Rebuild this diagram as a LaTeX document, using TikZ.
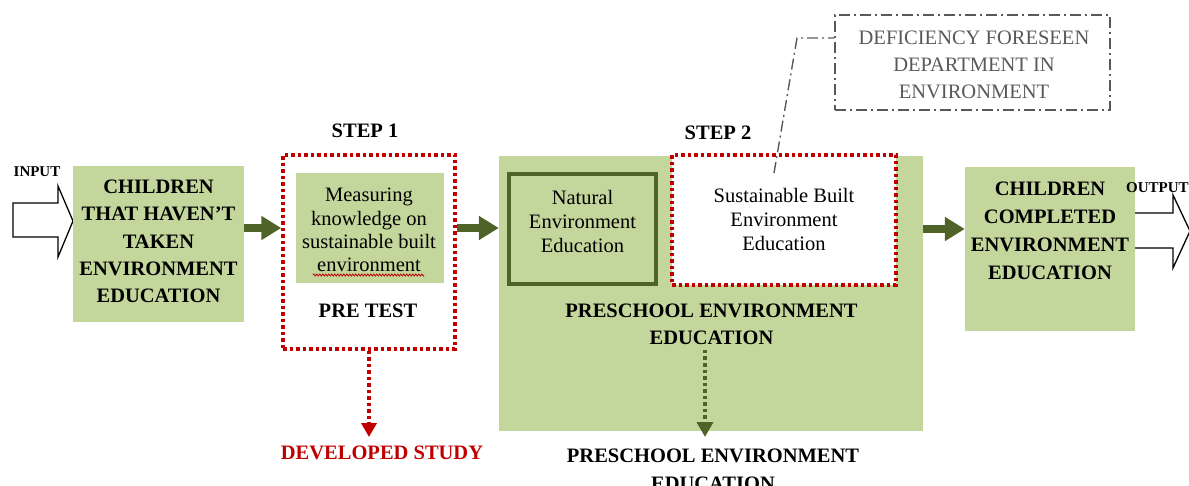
\documentclass[tikz,border=0pt]{standalone}
\usepackage{fontspec}
\setmainfont{Liberation Serif}
\usepackage{tikz}
\usetikzlibrary{arrows.meta, decorations.pathmorphing}

\definecolor{boxgreen}{HTML}{C3D69B}
\definecolor{darkgreen}{HTML}{4F6228}
\definecolor{darkred}{HTML}{C00000}
\definecolor{notegray}{HTML}{595959}

\tikzset{
  boldtxt/.style={font=\fontsize{20.5}{27.5}\selectfont\bfseries, align=center, inner sep=0pt},
  plaintxt/.style={font=\fontsize{20.5}{24}\selectfont, align=center, inner sep=0pt},
  smalltxt/.style={font=\fontsize{15}{17}\selectfont\bfseries, inner sep=0pt},
  greenbox/.style={fill=boxgreen, draw=none, inner sep=0pt},
  reddots/.style={draw=darkred, line width=3.5pt, dash pattern=on 3.5pt off 3pt},
  greenarrow/.style={draw=darkgreen, line width=8pt, -{Triangle[width=23pt, length=20pt]}},
  dashdot/.style={draw=notegray, line width=1.4pt, dash pattern=on 11pt off 4pt on 2pt off 4pt}
}

\begin{document}
\begin{tikzpicture}[x=1pt, y=-1pt]
                \useasboundingbox (0, 0) rectangle (1189, 486);
                % input side
                \node[smalltxt] (input) at (37, 172){INPUT};
                \draw[line width=1.3pt, fill=white] (13, 203) -- (58, 203) -- (58, 186) -- (73, 221) -- (58, 257) -- (58, 237) -- (13, 237) -- cycle;
                \node[greenbox, minimum width=171pt, minimum height=156pt] (before) at (158.5, 244){};
                \node[boldtxt, font=\fontsize{20.5}{27.3}\selectfont\bfseries] (beforetxt) at (158.5, 241.5){CHILDREN\\THAT HAVEN’T\\TAKEN\\ENVIRONMENT\\EDUCATION};
                % step 1
                \node[boldtxt] (step1) at (365, 131){STEP 1};
                \node[reddots, minimum width=172pt, minimum height=194pt] (pretestbox) at (369, 252){};
                \node[greenbox, minimum width=148pt, minimum height=110pt] (measure) at (370, 228){};
                \node[plaintxt, font=\fontsize{20.5}{23.3}\selectfont] (measuretxt) at (369, 230){Measuring\\knowledge on\\sustainable built\\environment};
                \draw[darkred, line width=0.8pt, decorate, decoration={zigzag, segment length=3pt, amplitude=1pt}] (313, 275) -- (424, 275);
                \node[boldtxt] (pretest) at (368, 311){PRE TEST};
                \node[boldtxt, text=darkred] (developed) at (382, 453){DEVELOPED STUDY};
                \draw[reddots, -{Triangle[width=15pt, length=14pt]}] (pretestbox.south) -- (pretestbox.south |- 0, 437);
                % step 2
                \node[boldtxt] (step2) at (718, 133){STEP 2};
                \node[greenbox, minimum width=424pt, minimum height=275pt] (preschool) at (711, 293.5){};
                \node[draw=darkgreen, line width=4pt, fill=boxgreen, minimum width=147pt, minimum height=110pt] (natural) at (582.5, 229){};
                \node[plaintxt] (naturaltxt) at (582.5, 221){Natural\\Environment\\Education};
                \node[reddots, fill=white, minimum width=224pt, minimum height=130pt] (builtbox) at (784, 220){};
                \node[plaintxt] (builttxt) at (784, 219){Sustainable Built\\Environment\\Education};
                \node[boldtxt, font=\fontsize{20.5}{27}\selectfont\bfseries] (preschooltxt) at (711.5, 324.5){PRESCHOOL ENVIRONMENT\\EDUCATION};
                \node[boldtxt, font=\fontsize{20.5}{28}\selectfont\bfseries] (result) at (713, 470){PRESCHOOL ENVIRONMENT\\EDUCATION};
                \draw[darkgreen, line width=3.5pt, dash pattern=on 3.5pt off 3pt, -{Triangle[width=16pt, length=15pt]}] (705, 350) -- (705, 437);
                % note
                \node[dashdot, minimum width=275pt, minimum height=95pt] (notebox) at (972.5, 62.5){};
                \node[plaintxt, text=notegray, font=\fontsize{20.5}{27}\selectfont] (notetxt) at (974, 65){DEFICIENCY FORESEEN\\DEPARTMENT IN\\ENVIRONMENT};
                \coordinate (notefoot) at (774, 173);
                \coordinate (notebend) at (797, 38);
                \draw[dashdot] (notefoot) -- (notebend) -- (notebox.west |- notebend) ++(-9, 0);
                % output side
                \draw[line width=1.3pt, fill=white] (1135, 213) -- (1173, 213) -- (1173, 195) -- (1190, 231) -- (1173, 268) -- (1173, 248) -- (1135, 248);
                \node[greenbox, minimum width=170pt, minimum height=164pt] (after) at (1050, 249){};
                \node[boldtxt, font=\fontsize{20.5}{28}\selectfont\bfseries] (aftertxt) at (1050, 231){CHILDREN\\COMPLETED\\ENVIRONMENT\\EDUCATION};
                \node[smalltxt, anchor=west] (output) at (1126, 188){OUTPUT};
                % flow
                \draw[greenarrow] (before.east |- measure) -- (pretestbox.west |- measure);
                \draw[greenarrow] (pretestbox.east |- measure) -- (preschool.west |- measure);
                \draw[greenarrow] (preschool.east |- natural) -- (after.west |- natural);
        \end{tikzpicture}
\end{document}
